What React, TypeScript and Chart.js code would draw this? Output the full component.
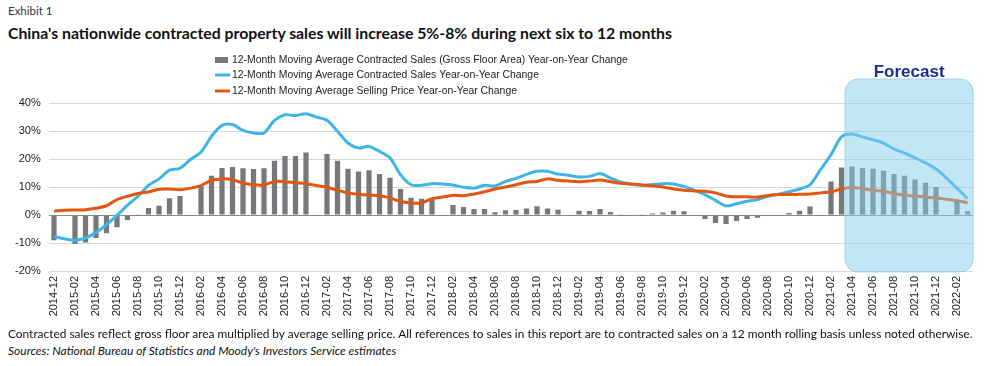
import React, { useEffect, useRef } from "react";
import { Chart, registerables } from "chart.js";

Chart.register(...registerables);

const months = [
  "2014-12",
  "2015-01", "2015-02", "2015-03", "2015-04", "2015-05", "2015-06", "2015-07", "2015-08", "2015-09", "2015-10", "2015-11", "2015-12",
  "2016-01", "2016-02", "2016-03", "2016-04", "2016-05", "2016-06", "2016-07", "2016-08", "2016-09", "2016-10", "2016-11", "2016-12",
  "2017-01", "2017-02", "2017-03", "2017-04", "2017-05", "2017-06", "2017-07", "2017-08", "2017-09", "2017-10", "2017-11", "2017-12",
  "2018-01", "2018-02", "2018-03", "2018-04", "2018-05", "2018-06", "2018-07", "2018-08", "2018-09", "2018-10", "2018-11", "2018-12",
  "2019-01", "2019-02", "2019-03", "2019-04", "2019-05", "2019-06", "2019-07", "2019-08", "2019-09", "2019-10", "2019-11", "2019-12",
  "2020-01", "2020-02", "2020-03", "2020-04", "2020-05", "2020-06", "2020-07", "2020-08", "2020-09", "2020-10", "2020-11", "2020-12",
  "2021-01", "2021-02", "2021-03", "2021-04", "2021-05", "2021-06", "2021-07", "2021-08", "2021-09", "2021-10", "2021-11", "2021-12",
  "2022-01", "2022-02", "2022-03",
];

// 12-Month Moving Average Contracted Sales (Gross Floor Area) YoY change, %
const gfaChange = [
  -9.0,
  null, -10.4, -9.8, -8.2, -6.5, -4.4, -1.8, 0.3, 2.5, 3.3, 6.0, 6.8,
  null, 10.2, 14.0, 16.8, 17.1, 16.7, 16.4, 16.7, 19.4, 21.1, 21.1, 22.3,
  null, 21.8, 19.4, 16.5, 15.5, 16.0, 14.6, 13.3, 9.3, 6.2, 5.8, 5.4,
  null, 3.6, 2.9, 2.1, 2.1, 1.0, 1.7, 1.8, 2.3, 3.1, 2.3, 1.9,
  null, 1.5, 1.4, 2.1, 1.1, 0.1, -0.2, 0.1, 0.5, 0.9, 1.5, 1.3,
  null, -1.4, -2.9, -3.2, -2.1, -1.4, -1.0, -0.4, 0.0, 0.7, 1.5, 3.0,
  null, 12.0, 17.0, 17.3, 16.8, 16.5, 15.8, 14.6, 14.0, 12.7, 11.5, 10.0,
  null, 4.9, 1.3,
];

// 12-Month Moving Average Contracted Sales YoY change, %
const salesChange = [
  -7.7,
  -8.5, -9.0, -8.2, -6.2, -3.5, -0.1, 3.5, 6.7, 10.6, 12.9, 16.0, 16.7,
  19.8, 22.5, 28.1, 32.0, 32.3, 30.2, 29.3, 29.3, 33.8, 35.8, 35.5, 36.2,
  35.0, 33.8, 29.9, 25.7, 23.9, 24.5, 22.7, 20.4, 14.4, 10.8, 10.6, 11.2,
  11.1, 10.7, 9.9, 9.6, 10.6, 10.4, 12.0, 13.1, 14.5, 15.6, 15.6, 14.6,
  14.2, 13.6, 13.8, 14.8, 13.2, 11.7, 11.0, 10.6, 10.9, 11.2, 11.1, 10.2,
  8.8, 7.3, 5.2, 3.2, 4.0, 4.9, 5.5, 6.7, 7.4, 8.3, 9.3, 10.8,
  16.2, 21.5, 27.9, 28.9, 27.9, 26.9, 25.7, 23.6, 22.1, 20.4, 18.6, 16.4,
  13.2, 9.6, 5.8,
];

// 12-Month Moving Average Selling Price YoY change, %
const priceChange = [
  1.4,
  1.7, 1.8, 1.9, 2.4, 3.3, 5.5, 6.7, 7.7, 8.2, 9.2, 9.3, 9.0,
  9.6, 10.5, 12.4, 12.9, 12.6, 11.4, 10.8, 10.7, 12.0, 11.9, 11.5, 11.2,
  10.5, 9.9, 8.8, 7.9, 7.4, 7.1, 6.9, 6.1, 4.8, 4.3, 4.3, 5.8,
  6.4, 7.0, 6.9, 7.5, 8.3, 9.3, 10.0, 10.8, 11.7, 12.0, 12.9, 12.4,
  12.1, 11.9, 12.1, 12.5, 11.9, 11.3, 11.1, 10.7, 10.4, 10.0, 9.3, 8.8,
  8.6, 8.5, 7.9, 6.8, 6.5, 6.5, 6.4, 7.0, 7.3, 7.3, 7.4, 7.5,
  7.9, 8.3, 9.3, 9.8, 9.4, 8.8, 8.5, 7.7, 7.1, 6.8, 6.4, 6.1,
  5.6, 5.1, 4.4,
];

const seriesNames = [
  "12-Month Moving Average Contracted Sales (Gross Floor Area) Year-on-Year Change",
  "12-Month Moving Average Contracted Sales Year-on-Year Change",
  "12-Month Moving Average Selling Price Year-on-Year Change",
];

const yTicks = [-20, -10, 0, 10, 20, 30, 40];
const forecastStart = "2021-04";
const forecastLabel = "Forecast";

const GRAY = "#77787b";
const BLUE = "#3fb4e6";
const ORANGE = "#e4560f";
const FONT = "'Liberation Sans', Arial, Helvetica, sans-serif";

const legendPlugin = {
  id: "customLegend",
  afterDraw(chart: any) {
    const { ctx } = chart;
    const top = chart.chartArea.top;
    const x0 = 215;
    const rows = [top - 43, top - 28, top - 12];
    ctx.save();
    ctx.font = `10.4px ${FONT}`;
    ctx.textBaseline = "middle";
    chart.data.datasets.forEach((ds: any, i: number) => {
      const yy = rows[i];
      if (ds.type === "bar") {
        ctx.fillStyle = ds.backgroundColor;
        ctx.fillRect(x0, yy - 3, 13, 6);
      } else {
        ctx.strokeStyle = ds.borderColor;
        ctx.lineWidth = 3;
        ctx.beginPath();
        ctx.moveTo(x0, yy);
        ctx.lineTo(x0 + 15, yy);
        ctx.stroke();
      }
      ctx.fillStyle = "#222";
      ctx.textAlign = "left";
      ctx.fillText(ds.label, x0 + 17, yy + 0.5);
    });
    ctx.restore();
  },
};

const forecastPlugin = {
  id: "forecastBox",
  afterDatasetsDraw(chart: any) {
    const { ctx, chartArea } = chart;
    const xs = chart.scales.x;
    const ys = chart.scales.y;
    const idx = months.indexOf(forecastStart);
    const step = xs.getPixelForValue(1) - xs.getPixelForValue(0);
    const left = xs.getPixelForValue(idx) - 0.67 * step;
    const right = chartArea.right + 0.5;
    const top = ys.getPixelForValue(48.6);
    const bottom = chartArea.bottom + 1;
    ctx.save();
    ctx.beginPath();
    ctx.roundRect(left, top, right - left, bottom - top, 13);
    ctx.fillStyle = "rgba(135, 206, 235, 0.5)";
    ctx.fill();
    ctx.strokeStyle = "rgba(110, 190, 230, 0.55)";
    ctx.lineWidth = 1;
    ctx.stroke();
    ctx.font = `bold 17px ${FONT}`;
    ctx.fillStyle = "#1c2c96";
    ctx.textAlign = "center";
    ctx.textBaseline = "middle";
    ctx.fillText(forecastLabel, (left + right) / 2, top - 7);
    ctx.restore();
  },
};

export default function App() {
  const ref = useRef<HTMLCanvasElement>(null);

  useEffect(() => {
    if (!ref.current) return;
    const chart = new Chart(ref.current, {
      type: "bar",
      data: {
        labels: months,
        datasets: [
          {
            type: "bar",
            label: seriesNames[0],
            data: gfaChange,
            backgroundColor: GRAY,
            barPercentage: 0.5,
            categoryPercentage: 1,
            order: 3,
          },
          {
            type: "line",
            label: seriesNames[1],
            data: salesChange,
            borderColor: BLUE,
            backgroundColor: BLUE,
            borderWidth: 3,
            pointRadius: 0,
            tension: 0.3,
            order: 2,
          },
          {
            type: "line",
            label: seriesNames[2],
            data: priceChange,
            borderColor: ORANGE,
            backgroundColor: ORANGE,
            borderWidth: 3,
            pointRadius: 0,
            tension: 0.3,
            order: 1,
          },
        ] as any,
      },
      options: {
        responsive: false,
        animation: false,
        devicePixelRatio: 1,
        layout: { padding: { top: 58, right: 16.25, left: 0, bottom: 0 } },
        plugins: {
          legend: { display: false },
          tooltip: { enabled: false },
          title: { display: false },
        },
        scales: {
          x: {
            grid: { display: false, drawTicks: false },
            border: { display: false },
            ticks: {
              autoSkip: false,
              maxRotation: 90,
              minRotation: 90,
              padding: 5,
              color: "#222",
              font: { size: 11, family: FONT },
              callback: (_v: any, i: number) => (i % 2 === 0 ? months[i] : ""),
            },
            afterFit: (s: any) => {
              s.height = 59;
            },
          },
          y: {
            min: yTicks[0],
            max: yTicks[yTicks.length - 1],
            afterBuildTicks: (s: any) => {
              s.ticks = yTicks.map((v) => ({ value: v }));
            },
            grid: {
              drawTicks: false,
              color: (c: any) => (c.tick && c.tick.value === 0 ? "#8a8a8a" : "#d9d9d9"),
              lineWidth: 1,
            },
            border: { display: false },
            ticks: {
              padding: 8,
              color: "#222",
              font: { size: 11, family: FONT },
              callback: (v: any) => `${v}%`,
            },
            afterFit: (s: any) => {
              s.width = 48.75;
            },
          },
        },
      },
      plugins: [forecastPlugin, legendPlugin],
    });
    return () => chart.destroy();
  }, []);

  const textFont = "Lato, 'Open Sans', sans-serif";
  return (
    <div style={{ position: "absolute", left: 0, top: 0, width: 989, height: 366, background: "#fff", overflow: "hidden" }}>
      <div style={{ position: "absolute", left: 8, top: 4, fontFamily: textFont, fontSize: 11.5, color: "#333", whiteSpace: "nowrap" }}>
        Exhibit 1
      </div>
      <div style={{ position: "absolute", left: 8, top: 23, fontFamily: textFont, fontSize: 15.8, fontWeight: 700, color: "#111", whiteSpace: "nowrap" }}>
        China's nationwide contracted property sales will increase 5%-8% during next six to 12 months
      </div>
      <canvas ref={ref} width={989} height={285} style={{ position: "absolute", left: 0, top: 45, width: 989, height: 285 }} />
      <div style={{ position: "absolute", left: 8, top: 326, fontFamily: textFont, fontSize: 11.9, color: "#111", whiteSpace: "nowrap" }}>
        Contracted sales reflect gross floor area multiplied by average selling price. All references to sales in this report are to contracted sales on a 12 month rolling basis unless noted otherwise.
      </div>
      <div style={{ position: "absolute", left: 8, top: 343, fontFamily: textFont, fontSize: 12, fontStyle: "italic", color: "#111", whiteSpace: "nowrap" }}>
        Sources: National Bureau of Statistics and Moody's Investors Service estimates
      </div>
    </div>
  );
}
